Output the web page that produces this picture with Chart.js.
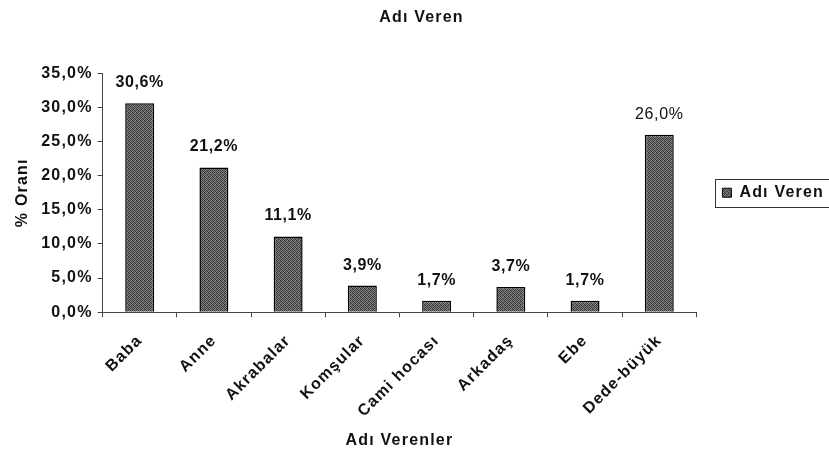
<!DOCTYPE html>
<html>
<head>
<meta charset="utf-8">
<script src="https://cdn.jsdelivr.net/npm/chart.js@4.4.1/dist/chart.umd.min.js"></script>
<style>
  html, body { margin: 0; padding: 0; background: #fff; }
  #wrap { width: 829px; height: 454px; }
</style>
</head>
<body>
<div id="wrap"><canvas id="c" width="829" height="454"></canvas></div>
<script>
const categories = ['Baba', 'Anne', 'Akrabalar', 'Komşular', 'Cami hocası', 'Arkadaş', 'Ebe', 'Dede-büyük'];
const values = [30.6, 21.2, 11.1, 3.9, 1.7, 3.7, 1.7, 26.0];
const boldLabels = [true, true, true, true, true, true, true, false];
const yTicks = [0, 5, 10, 15, 20, 25, 30, 35];
const seriesName = 'Adı Veren';
const chartTitle = 'Adı Veren';
const xTitle = 'Adı Verenler';
const yTitle = '% Oranı';

const FONT = "'Liberation Sans', Arial, sans-serif";
const fmt = v => v.toFixed(1).replace('.', ',') + '%';

// stipple fill pattern
function makePattern() {
  const p = document.createElement('canvas');
  p.width = 4; p.height = 4;
  const g = p.getContext('2d');
  const shades = [
    ['#2e2e2e', '#777', '#454545', '#8a8a8a'],
    ['#6a6a6a', '#3a3a3a', '#909090', '#505050'],
    ['#424242', '#858585', '#333', '#757575'],
    ['#8c8c8c', '#4a4a4a', '#707070', '#3a3a3a']
  ];
  for (let y = 0; y < 4; y++) for (let x = 0; x < 4; x++) {
    g.fillStyle = shades[y][x]; g.fillRect(x, y, 1, 1);
  }
  return document.getElementById('c').getContext('2d').createPattern(p, 'repeat');
}
const pattern = makePattern();

const spacingPlugin = {
  id: 'spacing',
  beforeUpdate(chart) { chart.ctx.letterSpacing = '1.2px'; },
  beforeDraw(chart) { chart.ctx.letterSpacing = '1.2px'; }
};

const labelPlugin = {
  id: 'valueLabels',
  afterDatasetsDraw(chart) {
    const ctx = chart.ctx;
    const meta = chart.getDatasetMeta(0);
    ctx.save();
    ctx.letterSpacing = '0.6px';
    ctx.fillStyle = '#111';
    ctx.textAlign = 'center';
    ctx.textBaseline = 'alphabetic';
    meta.data.forEach((bar, i) => {
      ctx.font = (boldLabels[i] ? 'bold ' : '') + '16px ' + FONT;
      ctx.fillText(fmt(values[i]), bar.x, bar.y - 16);
    });
    ctx.restore();
  }
};

const legendBoxPlugin = {
  id: 'legendFrame',
  afterDraw(chart) {
    const lg = chart.legend;
    if (!lg || !lg.legendHitBoxes || !lg.legendHitBoxes.length) return;
    const hb = lg.legendHitBoxes[0];
    const ctx = chart.ctx;
    ctx.save();
    ctx.strokeStyle = '#333';
    ctx.lineWidth = 1;
    ctx.strokeRect(Math.round(hb.left - 7) + 0.5, Math.round(hb.top - 6) + 0.5, chart.width, Math.round(hb.height + 12));
    ctx.restore();
  }
};

new Chart(document.getElementById('c'), {
  type: 'bar',
  data: {
    labels: categories,
    datasets: [{
      label: seriesName,
      data: values,
      backgroundColor: pattern,
      borderColor: '#000',
      borderWidth: 1.5,
      barPercentage: 0.39,
      categoryPercentage: 1.0
    }]
  },
  options: {
    responsive: false,
    animation: false,
    layout: { padding: { left: 9, right: -5, top: 6, bottom: 4 } },
    plugins: {
      title: {
        display: true,
        text: chartTitle,
        color: '#111',
        font: { family: FONT, size: 16, weight: 'bold' },
        padding: { top: 2, bottom: 46 }
      },
      legend: {
        display: true,
        position: 'right',
        align: 'center',
        fullSize: false,
        labels: {
          color: '#111',
          font: { family: FONT, size: 16, weight: 'bold' },
          boxWidth: 9,
          boxHeight: 9,
          padding: 26,
          generateLabels(chart) {
            return [{
              text: seriesName,
              fillStyle: pattern,
              strokeStyle: '#000',
              lineWidth: 1,
              datasetIndex: 0,
              fontColor: '#111'
            }];
          }
        }
      },
      tooltip: { enabled: false }
    },
    scales: {
      x: {
        grid: { display: true, drawOnChartArea: false, drawTicks: true, tickLength: 5, color: '#444', offset: true },
        border: { display: true, color: '#444', width: 1 },
        ticks: {
          color: '#111',
          font: { family: FONT, size: 16, weight: 'bold' },
          minRotation: 45,
          maxRotation: 45,
          autoSkip: false,
          padding: 14
        },
        title: {
          display: true,
          text: xTitle,
          color: '#111',
          font: { family: FONT, size: 16, weight: 'bold' },
          padding: { top: -4, bottom: 0 }
        }
      },
      y: {
        min: 0,
        max: 35,
        afterBuildTicks(scale) { scale.ticks = yTicks.map(v => ({ value: v })); },
        grid: { display: true, drawOnChartArea: false, drawTicks: true, tickLength: 5, color: '#444' },
        border: { display: true, color: '#444', width: 1 },
        ticks: {
          color: '#111',
          font: { family: FONT, size: 16, weight: 'bold' },
          padding: 5,
          callback: v => fmt(v)
        },
        title: {
          display: true,
          text: yTitle,
          color: '#111',
          font: { family: FONT, size: 16, weight: 'bold' },
          padding: { top: 4, bottom: 4 }
        }
      }
    }
  },
  plugins: [spacingPlugin, labelPlugin, legendBoxPlugin]
});
</script>
</body>
</html>
